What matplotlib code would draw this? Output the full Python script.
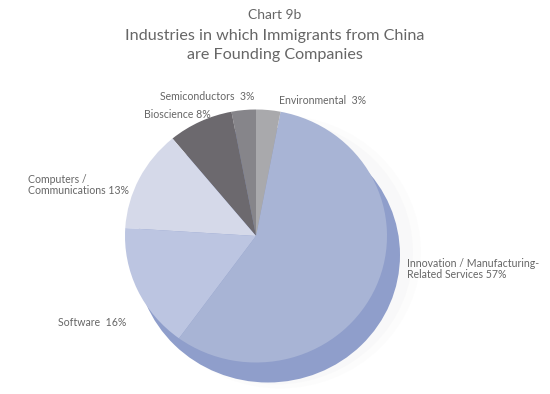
import matplotlib.pyplot as plt
from matplotlib.patches import Ellipse

# data (counter-clockwise from 12 o'clock)
labels = ["Semiconductors", "Bioscience", "Computers /\nCommunications", "Software",
          "Innovation / Manufacturing-\nRelated Services", "Environmental"]
shares = [3, 8, 13, 16, 57, 3]
colors = ["#86858a", "#6c696e", "#d5d9e9", "#bcc5e1", "#a8b4d5", "#a9a9ac"]

plt.rcParams['font.family'] = ['Lato', 'DejaVu Sans']
txt = "#666666"

fig = plt.figure(figsize=(5.5, 3.94), dpi=100)
ax = fig.add_axes([0, 0, 1, 1])
# pixel coordinates, y slightly squashed so the pie reads a little tilted
ax.set_xlim(0, 550)
ax.set_ylim(394, 0)
ax.axis('off')

cx, cy, rx, ry = 256, 236, 131, 126.5

# soft halo + darker rim underneath the face
for k, a in [(8, 0.025), (4, 0.03)]:
    ax.add_patch(Ellipse((cx + 16 + k, cy + 16), 2 * (rx + 2 + k), 2 * (ry + 2 + k),
                         color="#9a9aa0", alpha=a, lw=0))
ax.add_patch(Ellipse((cx + 12, cy + 19), 2 * (rx + 1), 2 * (ry + 1), color="#8f9ecb", lw=0))

# y axis is inverted, so clockwise in data = counter-clockwise on screen
wedges, _ = ax.pie(shares, colors=colors, startangle=-90, counterclock=False,
                   center=(0, 0), radius=1, wedgeprops=dict(linewidth=0), frame=True)
from matplotlib.transforms import Affine2D
tr = Affine2D().scale(rx, ry).translate(cx, cy) + ax.transData
for w in wedges:
    w.set_transform(tr)
ax.set_xlim(0, 550)
ax.set_ylim(394, 0)
ax.set_aspect('auto')
ax.axis('off')

# titles
fig.text(0.5, 1 - 15 / 394, "Chart 9b", ha='center', va='center', fontsize=10, color=txt)
fig.text(0.5, 1 - 36 / 394, "Industries in which Immigrants from China", ha='center', va='center',
         fontsize=11.6, color=txt)
fig.text(0.5, 1 - 55 / 394, "are Founding Companies", ha='center', va='center',
         fontsize=11.6, color=txt)

def lab(x, y, s, ha='left'):
    fig.text(x / 550, 1 - y / 394, s, ha=ha, va='center', fontsize=7.6, color=txt, linespacing=1.0)

lab(207, 96, "Semiconductors  3%", ha='center')
lab(323, 100, "Environmental  3%", ha='center')
lab(177, 114, "Bioscience 8%", ha='center')
lab(28, 185, "Computers /\nCommunications 13%")
lab(126, 323, "Software  16%", ha='right')
lab(407, 269, "Innovation / Manufacturing-\nRelated Services 57%")

fig.savefig("out.png", dpi=100)
